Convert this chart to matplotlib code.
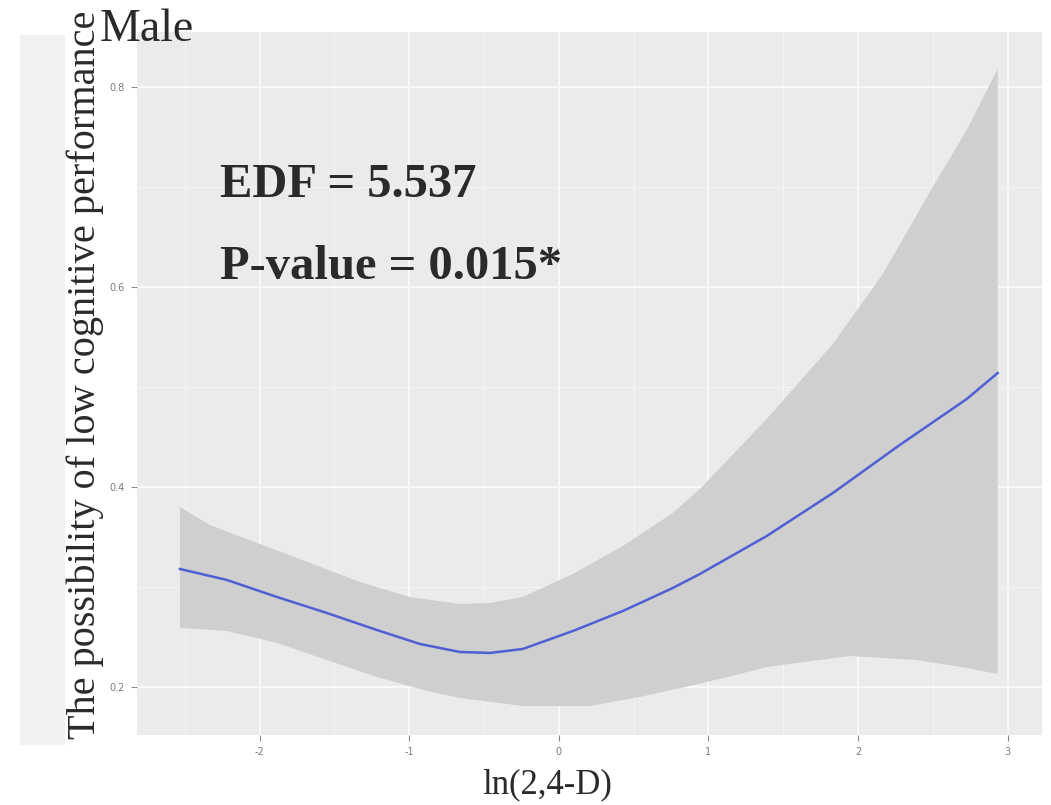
import matplotlib
matplotlib.use("Agg")
import matplotlib.pyplot as plt
import numpy as np
from matplotlib.patches import Rectangle

# Data
fit_x = [-2.533, -2.219, -1.885, -1.551, -1.217, -0.929, -0.662, -0.461, -0.241, 0.094,
         0.428, 0.762, 0.943, 1.390, 1.832, 2.279, 2.727, 2.934]
fit_y = [0.318, 0.307, 0.290, 0.274, 0.257, 0.243, 0.235, 0.234, 0.238, 0.256,
         0.276, 0.299, 0.313, 0.351, 0.394, 0.442, 0.488, 0.514]

upper_x = [-2.533, -2.333, -1.999, -1.664, -1.330, -0.996, -0.662, -0.461, -0.241, 0.094,
           0.428, 0.762, 0.943, 1.390, 1.832, 2.166, 2.500, 2.727, 2.934]
upper_y = [0.380, 0.362, 0.343, 0.324, 0.305, 0.290, 0.283, 0.284, 0.290, 0.313,
           0.341, 0.374, 0.398, 0.468, 0.543, 0.613, 0.700, 0.757, 0.818]

lower_x = [-2.533, -2.219, -1.885, -1.551, -1.217, -0.882, -0.662, -0.241, 0.207, 0.541,
           0.876, 1.210, 1.390, 1.945, 2.393, 2.727, 2.934]
lower_y = [0.259, 0.256, 0.244, 0.227, 0.210, 0.196, 0.189, 0.181, 0.181, 0.190,
           0.201, 0.213, 0.220, 0.231, 0.227, 0.219, 0.213]

x_ticks = [-2, -1, 0, 1, 2, 3]
y_ticks = [0.2, 0.4, 0.6, 0.8]
title = "Male"
xlabel = "ln(2,4-D)"
ylabel = "The possibility of low cognitive performance"
annot = ["EDF = 5.537", "P-value = 0.015*"]

serif = ["Liberation Serif", "DejaVu Serif"]

fig = plt.figure(figsize=(10.51, 8.05), dpi=100)
fig.patch.set_facecolor("white")

# faint remnant strip at far left
fig.patches.append(Rectangle((20 / 1051, 1 - 745 / 805), 45 / 1051, 710 / 805,
                             transform=fig.transFigure, facecolor="#F1F1F1",
                             edgecolor="none", zorder=0))

ax = fig.add_axes([0.1304, 0.0870, 0.8610, 0.8732])
ax.set_facecolor("#EBEBEB")
ax.set_xlim(-2.82, 3.23)
ax.set_ylim(0.152, 0.855)

ax.set_xticks(x_ticks)
ax.set_yticks(y_ticks)
ax.set_xticks([-2.5, -1.5, -0.5, 0.5, 1.5, 2.5], minor=True)
ax.set_yticks([0.3, 0.5, 0.7], minor=True)
ax.grid(which="major", color="#F8F8F8", linewidth=1.5)
ax.grid(which="minor", color="#F4F4F4", linewidth=0.8)
ax.set_axisbelow(True)
for s in ax.spines.values():
    s.set_visible(False)

ax.set_xticklabels([str(t) for t in x_ticks])
ax.set_yticklabels([f"{t:.1f}" for t in y_ticks])
ax.tick_params(which="major", length=4, width=0.8, color="#8a8a8a",
               labelsize=7, labelcolor="#7a7a7a", pad=5)
ax.tick_params(which="minor", length=0)

band_x = np.concatenate([upper_x, lower_x[::-1]])
band_y = np.concatenate([upper_y, lower_y[::-1]])
ax.fill(band_x, band_y, color="#CFCFCF", linewidth=0, zorder=2)
ax.plot(fit_x, fit_y, color="#5060D4", linewidth=1.8, zorder=3,
        solid_joinstyle="round")

ax.text(220, 805 - 185, annot[0], transform=None, fontsize=35, fontweight="bold",
        family=serif, color="#2a2a2a", va="center", ha="left")
ax.text(220, 805 - 267, annot[1], transform=None, fontsize=35, fontweight="bold",
        family=serif, color="#2a2a2a", va="center", ha="left")

fig.text(100 / 1051, 1 - 30 / 805, title, fontsize=33, family=serif,
         color="#2a2a2a", va="center", ha="left")
fig.text(85 / 1051, 1 - 375 / 805, ylabel, fontsize=29, family=serif,
         color="#2a2a2a", rotation=90, va="center", ha="center")
fig.text(547 / 1051, 1 - 785 / 805, xlabel, fontsize=25, family=serif,
         color="#2a2a2a", va="center", ha="center")

fig.savefig("out.png", dpi=100, facecolor="white")
